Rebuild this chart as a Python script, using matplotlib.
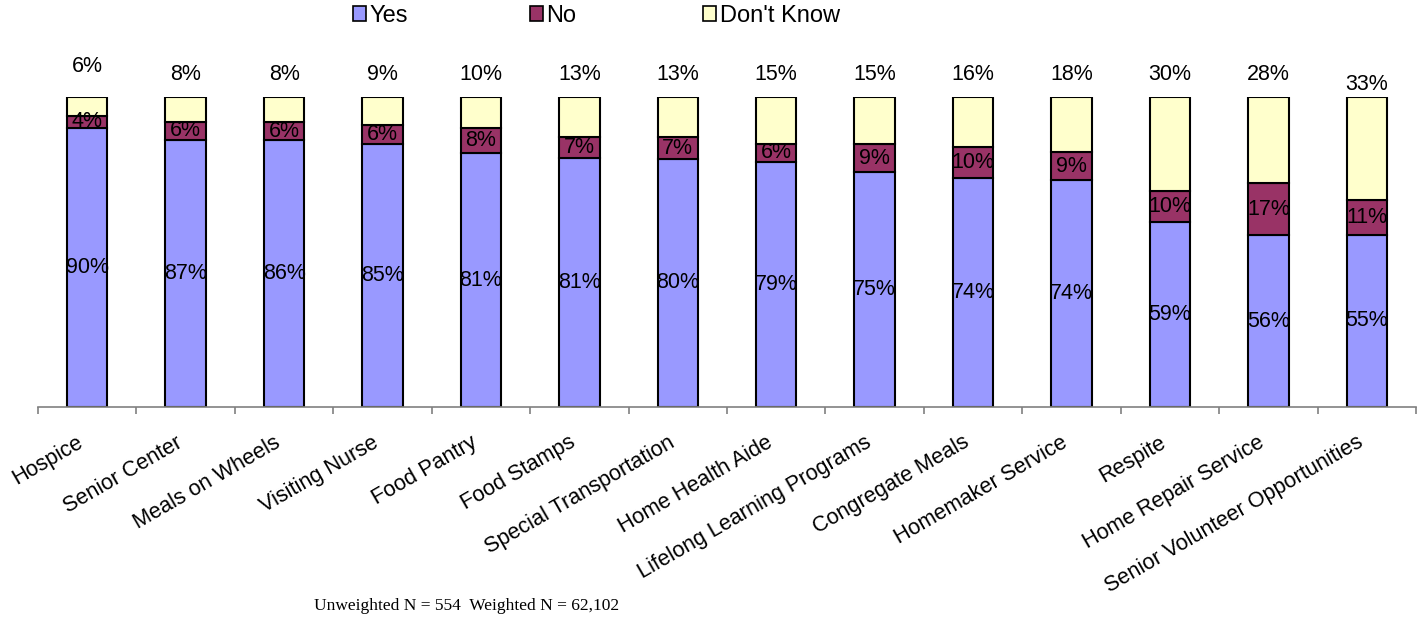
import matplotlib
matplotlib.use("Agg")
import matplotlib.pyplot as plt
from matplotlib.patches import Patch
import numpy as np

categories = ["Hospice", "Senior Center", "Meals on Wheels", "Visiting Nurse", "Food Pantry",
              "Food Stamps", "Special Transportation", "Home Health Aide",
              "Lifelong Learning Programs", "Congregate Meals", "Homemaker Service",
              "Respite", "Home Repair Service", "Senior Volunteer Opportunities"]
yes = [90, 87, 86, 85, 81, 81, 80, 79, 75, 74, 74, 59, 56, 55]
no = [4, 6, 6, 6, 8, 7, 7, 6, 9, 10, 9, 10, 17, 11]
dont_know = [6, 8, 8, 9, 10, 13, 13, 15, 15, 16, 18, 30, 28, 33]
series_names = ["Yes", "No", "Don't Know"]
colors = ["#9999FF", "#993366", "#FFFFCC"]

plt.rcParams['font.family'] = ['Liberation Sans', 'DejaVu Sans']

fig = plt.figure(figsize=(14.24, 6.24), dpi=100)
ax = fig.add_axes([38/1424, 217/624, 1378/1424, 310/624])

yes_a = np.array(yes, float)
no_a = np.array(no, float)
dk_a = np.array(dont_know, float)
tot = yes_a + no_a + dk_a
yp = yes_a / tot * 100
np_ = no_a / tot * 100
dp = dk_a / tot * 100
x = np.arange(len(categories))
w = 0.41
ax.bar(x, yp, w, color=colors[0], edgecolor='black', linewidth=1.5)
ax.bar(x, np_, w, bottom=yp, color=colors[1], edgecolor='black', linewidth=1.5)
ax.bar(x, dp, w, bottom=yp + np_, color=colors[2], edgecolor='black', linewidth=1.5)

fs = 15.5
for i in range(len(categories)):
    ax.text(x[i], yp[i] / 2, f"{yes[i]}%", ha='center', va='center', fontsize=fs)
    ax.text(x[i], yp[i] + np_[i] / 2, f"{no[i]}%", ha='center', va='center', fontsize=fs)
    off = 7.3
    if i == 0:
        off = 9.8
    elif i == len(categories) - 1:
        off = 4
    ax.text(x[i], 100 + off, f"{dont_know[i]}%", ha='center', va='center', fontsize=fs)

ax.set_xlim(-0.5, len(categories) - 0.5)
ax.set_ylim(0, 100)
for s in ['top', 'right', 'left']:
    ax.spines[s].set_visible(False)
ax.spines['bottom'].set_color('#808080')
ax.spines['bottom'].set_linewidth(1.2)
ax.set_yticks([])
ax.set_xticks(np.arange(len(categories) + 1) - 0.5)
ax.set_xticklabels([])
ax.tick_params(axis='x', direction='out', length=5, color='#808080', width=1.2)
for i, c in enumerate(categories):
    ax.annotate(c, xy=(x[i], 0), xycoords='data', xytext=(-7.5, -18), textcoords='offset points',
                rotation=30, ha='right', va='top', rotation_mode='anchor', fontsize=15.6,
                annotation_clip=False)

lx = [353, 530, 703]
for i in range(3):
    fig.legend(handles=[Patch(facecolor=colors[i], edgecolor='black', linewidth=1.2)],
               labels=[series_names[i]], loc='center left',
               bbox_to_anchor=(lx[i] / 1424, 1 - 16 / 624), frameon=False,
               fontsize=17, handlelength=0.55, handleheight=0.6, handletextpad=0.15,
               borderpad=0, borderaxespad=0)

fig.text(467 / 1424, 1 - 606 / 624, "Unweighted N = 554  Weighted N = 62,102",
         ha='center', va='center', fontsize=12.5, family='Liberation Serif')

fig.savefig("out.png", dpi=100)
